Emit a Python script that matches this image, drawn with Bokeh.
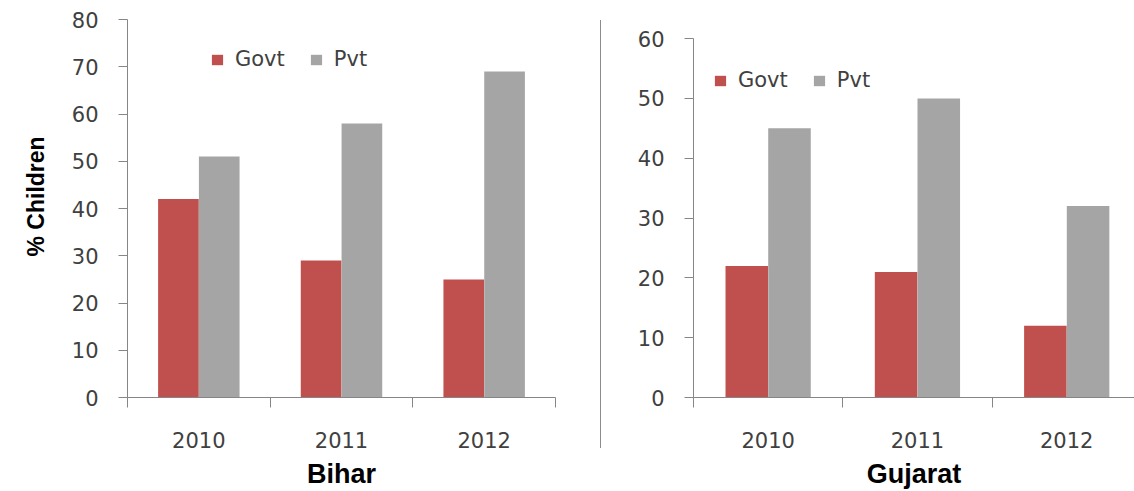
from bokeh.plotting import figure
from bokeh.models import (ColumnDataSource, Range1d, FixedTicker, SingleIntervalTicker,
                          Legend, LegendItem, Div, Title)
from bokeh.layouts import row
from bokeh.transform import dodge
from bokeh.embed import file_html
from bokeh.resources import INLINE

# ---- data ----
years = ["2010", "2011", "2012"]
bihar_govt = [42, 29, 25]
bihar_pvt = [51, 58, 69]
gujarat_govt = [22, 21, 12]
gujarat_pvt = [45, 50, 32]
series_names = ["Govt", "Pvt"]
bihar_ymax = 80
gujarat_ymax = 60

GOVT_COLOR = "#C0504D"
PVT_COLOR = "#A5A5A5"
AXIS_COLOR = "#868686"
TICK_TEXT = "#404040"
TICK_FONT = "DejaVu Sans"
TITLE_FONT = "Liberation Sans"
H = 491


def make_chart(title, govt, pvt, ymax, yview, width, x_end, borders, legend_loc, ylabel=None):
    n = len(years)
    centers = [i + 0.5 for i in range(n)]
    src = ColumnDataSource(dict(x=centers, govt=govt, pvt=pvt, year=years))
    left, right, top, bottom = borders
    p = figure(width=width, height=H, x_range=Range1d(0, x_end), y_range=Range1d(0, yview),
               output_backend="svg", toolbar_location=None,
               min_border_left=left, min_border_right=right,
               min_border_top=top, min_border_bottom=bottom)
    p.title = None
    p.outline_line_color = None
    p.xgrid.visible = False
    p.ygrid.visible = False
    p.background_fill_color = "white"
    p.border_fill_color = "white"

    bw = 0.285
    r1 = p.vbar(x=dodge("x", -0.143, range=p.x_range), top="govt", width=bw, bottom=0,
                source=src, fill_color=GOVT_COLOR, line_color=None)
    r2 = p.vbar(x=dodge("x", 0.143, range=p.x_range), top="pvt", width=bw, bottom=0,
                source=src, fill_color=PVT_COLOR, line_color=None)

    # x axis: labels at category centres, tick marks between categories
    xa = p.xaxis[0]
    xa.ticker = FixedTicker(ticks=centers, minor_ticks=list(range(n + 1)))
    xa.major_label_overrides = {c: y for c, y in zip(centers, years)}
    xa.major_tick_line_color = None
    xa.major_tick_out = 0
    xa.major_tick_in = 0
    xa.minor_tick_line_color = AXIS_COLOR
    xa.minor_tick_out = 10
    xa.minor_tick_in = 0
    xa.axis_line_color = AXIS_COLOR
    xa.major_label_text_font = TICK_FONT
    xa.major_label_text_font_size = "21px"
    xa.major_label_text_color = TICK_TEXT
    xa.major_label_standoff = 24
    xa.axis_label = title
    xa.axis_label_text_font = TITLE_FONT
    xa.axis_label_text_font_style = "bold"
    xa.axis_label_text_font_size = "27px"
    xa.axis_label_text_color = "#000000"
    xa.axis_label_standoff = 8

    ya = p.yaxis[0]
    ya.ticker = SingleIntervalTicker(interval=10, num_minor_ticks=0)
    ya.bounds = (0, ymax)
    ya.axis_line_color = AXIS_COLOR
    ya.major_tick_line_color = AXIS_COLOR
    ya.major_tick_out = 9
    ya.major_tick_in = 0
    ya.minor_tick_line_color = None
    ya.major_label_text_font = TICK_FONT
    ya.major_label_text_font_size = "21px"
    ya.major_label_text_color = TICK_TEXT
    ya.major_label_standoff = 20
    if ylabel:
        t = Title(text=ylabel, align="left", offset=141, standoff=40,
                  text_font=TITLE_FONT, text_font_style="bold",
                  text_font_size="23px", text_color="#000000")
        p.add_layout(t, "left")

    legend = Legend(items=[LegendItem(label=series_names[0], renderers=[r1]),
                           LegendItem(label=series_names[1], renderers=[r2])],
                    orientation="horizontal", location=legend_loc,
                    padding=0, margin=0, spacing=24, label_standoff=11,
                    glyph_width=14, glyph_height=13,
                    border_line_color=None, background_fill_alpha=0,
                    label_text_font=TICK_FONT, label_text_font_size="21px",
                    label_text_color=TICK_TEXT)
    p.add_layout(legend)
    return p


p_left = make_chart("Bihar", bihar_govt, bihar_pvt, bihar_ymax, 80, 600, 3.0,
                    (127, 45, 19, H - 397), (83, 326), ylabel="% Children")
p_right = make_chart("Gujarat", gujarat_govt, gujarat_pvt, gujarat_ymax, 63.2, 533, 2.954,
                     (92, 0, 19, H - 397), (20, 305))

divider = Div(text="", width=1, height=428, margin=(20, 0, 0, 0),
              styles={"background-color": "#8c8c8c"})

layout = row(p_left, divider, p_right)

open("out.html", "w").write(file_html(layout, INLINE))
